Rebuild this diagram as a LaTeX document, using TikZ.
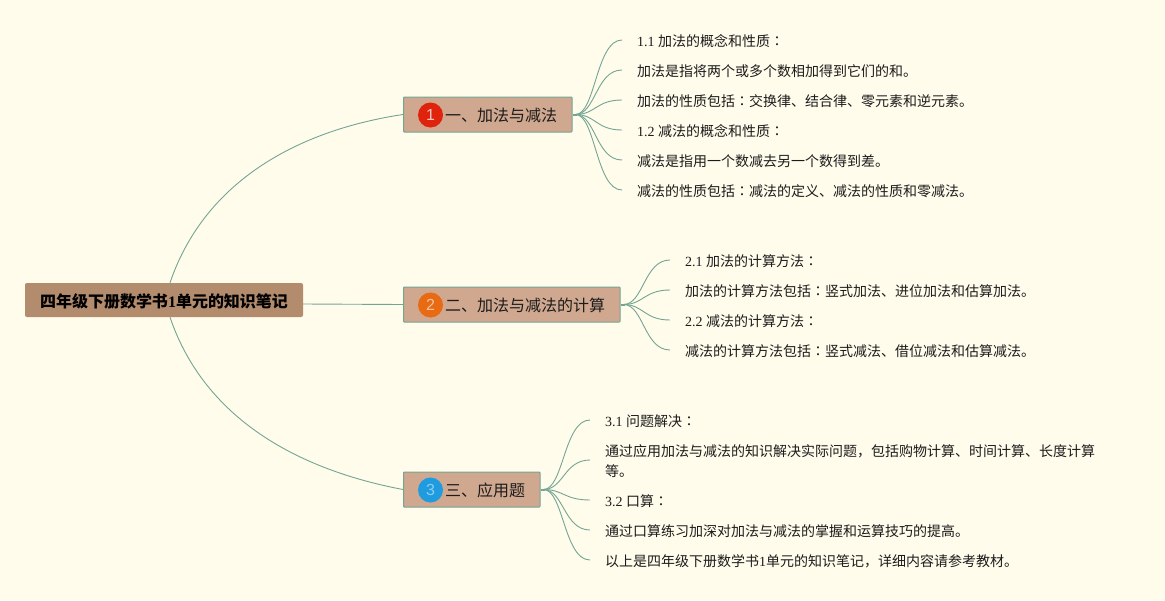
\documentclass[tikz,border=0pt]{standalone}
\usepackage{fontspec}
\setmainfont{Liberation Serif}
\newfontfamily\cjk{Noto Sans CJK SC}
\newfontfamily\cjktc{Noto Sans CJK TC}
\newfontfamily\lat{Liberation Serif}
\newfontfamily\badgefont{Liberation Sans}
\definecolor{paper}{HTML}{FFFCEC}
\definecolor{rootfill}{HTML}{B38B6D}
\definecolor{branchfill}{HTML}{CFA88F}
\definecolor{linkc}{HTML}{74A593}
\definecolor{inkc}{HTML}{1C1C1C}
\definecolor{badgea}{HTML}{E0230C}
\definecolor{badgeb}{HTML}{E86A12}
\definecolor{badgec}{HTML}{1F9BDF}
\newcommand{\cn}{{\cjktc ：}}
\tikzset{
  rootbox/.style={fill=rootfill,rounded corners=2pt,inner sep=0pt,minimum width=278pt,minimum height=34pt,text=black},
  roottext/.style={font=\fontsize{16}{16}\selectfont\cjk\bfseries,text=black,inner sep=0pt},
  branchbox/.style={fill=branchfill,draw=linkc,line width=1pt,rounded corners=0.8pt,inner sep=0pt,minimum height=35pt,anchor=west},
  branchtext/.style={font=\fontsize{16}{16}\selectfont\cjk,text=inkc,inner sep=0pt,anchor=west},
  badge/.style={circle,inner sep=0pt,minimum size=25pt,font=\fontsize{16}{16}\selectfont\badgefont},
  leaf/.style={font=\fontsize{14}{20}\selectfont\cjk,text=inkc,inner sep=0pt,anchor=west,align=left},
  link/.style={draw=linkc,line width=0.9pt},
  stub/.style={draw=linkc,line width=2pt},
}
\begin{document}
\begin{tikzpicture}[x=1pt,y=-1pt]
\useasboundingbox[fill=paper] (0,0) rectangle (1165,600);
% root and branches
\node[rootbox] (root) at (164,300) {};
\node[roottext] (roott) at (164,301) {四年级下册数学书{\lat 1}单元的知识笔记};
\node[branchbox,minimum width=168.5pt] (b1) at (403,114.5) {};
\node[branchbox,minimum width=216.5pt] (b2) at (403,304.5) {};
\node[branchbox,minimum width=136.5pt] (b3) at (403,489.5) {};
\node[badge,fill=badgea,text=white!75!badgea] (c1) at (430.5,115) {1};
\node[badge,fill=badgeb,text=white!60!badgeb] (c2) at (430.5,305) {2};
\node[badge,fill=badgec,text=white!50!badgec] (c3) at (430.5,490) {3};
\node[branchtext] (t1) at (445,115.5) {一、加法与减法};
\node[branchtext] (t2) at (445,305.5) {二、加法与减法的计算};
\node[branchtext] (t3) at (445,490.5) {三、应用题};
% leaves
\node[leaf] (l11) at (637,41) {{\lat 1.1 }加法的概念和性质\cn};
\node[leaf] (l12) at (637,71) {加法是指将两个或多个数相加得到它们的和。};
\node[leaf] (l13) at (637,101) {加法的性质包括\cn 交换律、结合律、零元素和逆元素。};
\node[leaf] (l14) at (637,131) {{\lat 1.2 }减法的概念和性质\cn};
\node[leaf] (l15) at (637,161) {减法是指用一个数减去另一个数得到差。};
\node[leaf] (l16) at (637,191) {减法的性质包括\cn 减法的定义、减法的性质和零减法。};
\node[leaf] (l21) at (685,261) {{\lat 2.1 }加法的计算方法\cn};
\node[leaf] (l22) at (685,291) {加法的计算方法包括\cn 竖式加法、进位加法和估算加法。};
\node[leaf] (l23) at (685,321) {{\lat 2.2 }减法的计算方法\cn};
\node[leaf] (l24) at (685,351) {减法的计算方法包括\cn 竖式减法、借位减法和估算减法。};
\node[leaf] (l31) at (605,421) {{\lat 3.1 }问题解决\cn};
\node[leaf] (l32) at (605,461) {通过应用加法与减法的知识解决实际问题，包括购物计算、时间计算、长度计算\\等。};
\node[leaf] (l33) at (605,501) {{\lat 3.2 }口算\cn};
\node[leaf] (l34) at (605,531) {通过口算练习加深对加法与减法的掌握和运算技巧的提高。};
\node[leaf] (l35) at (605,561) {以上是四年级下册数学书{\lat 1}单元的知识笔记，详细内容请参考教材。};
% root links
\draw[link] ([xshift=6pt]root.north) .. controls +(35,-103) and (300,130) .. (b1.west);
\draw[link] ([yshift=-4pt]root.east) -- (b2.west);
\draw[link] ([xshift=6pt]root.south) .. controls +(35,103) and (300,470) .. (b3.west);
% leaf links
\foreach \b/\lst in {b1/{l11,l12,l13,l14,l15,l16},b2/{l21,l22,l23,l24},b3/{l31,l32,l33,l34,l35}}{
  \draw[stub] (\b.east) -- ++(4,0);
  \foreach \l in \lst {
    \draw[link] ([xshift=3pt]\b.east) .. controls +(20,0) and +(-26,0) .. ([xshift=-15pt,yshift=1pt]\l.west);
  }
}
\end{tikzpicture}
\end{document}
